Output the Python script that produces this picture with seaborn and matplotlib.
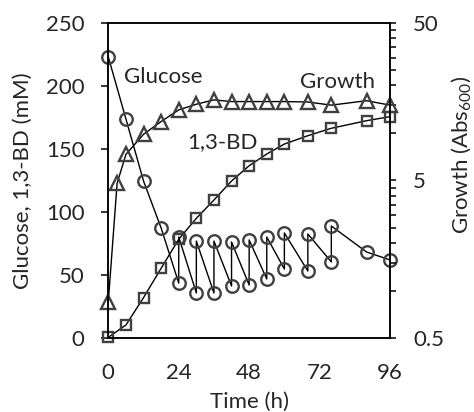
import matplotlib
matplotlib.use("Agg")
import matplotlib.pyplot as plt
import pandas as pd
import seaborn as sns
from matplotlib.ticker import FixedLocator, NullFormatter

# glucose was sampled before and after each feed, so times repeat
GLUCOSE_TIME = [0, 6, 12, 18, 24, 24, 30, 30, 36, 36, 42, 42, 48, 48,
                54, 54, 60, 60, 68, 68, 76, 76, 88, 96]
GLUCOSE_MM = [222.8, 173.7, 124.5, 87.2, 43.6, 80.1, 35.7, 76.9, 35.7, 76.9,
              41.2, 76.1, 42.0, 77.7, 46.8, 80.1, 54.7, 83.3, 53.1, 82.5,
              60.3, 88.8, 68.2, 61.9]

BD_TIME = [0, 6, 12, 18, 24, 30, 36, 42, 48, 54, 60, 68, 76, 88, 96]
BD_MM = [0.5, 10.3, 32.0, 55.3, 78.3, 94.9, 109.4, 124.5, 136.6, 145.9,
         153.8, 160.4, 166.3, 172.3, 175.5]

GROWTH_TIME = [0, 3, 6, 12, 18, 24, 30, 36, 42, 48, 54, 60, 68, 76, 88, 96]
GROWTH_ABS = [0.85, 4.8, 7.3, 9.8, 11.8, 14.0, 15.2, 16.2, 15.8, 15.8,
              15.8, 15.8, 15.7, 15.0, 16.0, 15.0]

X_TICKS = [0, 24, 48, 72, 96]
LEFT_TICKS = [0, 50, 100, 150, 200, 250]
RIGHT_TICKS = [0.5, 5, 50]
RIGHT_TICK_LABELS = ["0.5", "5", "50"]
RIGHT_MINOR = [1, 1.5, 2, 2.5, 3, 3.5, 4, 4.5, 10, 15, 20, 25, 30, 35, 40, 45]

LINE = "black"
EDGE = "#404040"
FS = 16


def setup_style():
    sns.set_style("white")
    plt.rcParams["font.family"] = ["Lato", "DejaVu Sans"]
    plt.rcParams["mathtext.default"] = "regular"
    plt.rcParams["axes.linewidth"] = 1.1
    plt.rcParams["axes.edgecolor"] = "black"


def marker_kws(marker, size):
    return dict(color=LINE, linewidth=1.0, marker=marker, markersize=size,
                markerfacecolor="none", markeredgecolor=EDGE,
                markeredgewidth=1.7, clip_on=False)


def main():
    setup_style()
    glucose = pd.DataFrame({"time": GLUCOSE_TIME, "mm": GLUCOSE_MM})
    bd = pd.DataFrame({"time": BD_TIME, "mm": BD_MM})
    growth = pd.DataFrame({"time": GROWTH_TIME, "abs600": GROWTH_ABS})

    fig = plt.figure(figsize=(4.74, 4.12), dpi=100)
    ax = fig.add_axes([0.2285, 0.1796, 0.5943, 0.7653])

    sns.lineplot(data=glucose, x="time", y="mm", estimator=None, sort=False,
                 ax=ax, **marker_kws("o", 9))
    sns.lineplot(data=bd, x="time", y="mm", estimator=None, sort=False,
                 ax=ax, **marker_kws("s", 7.8))

    ax.set_xlim(0, 96)
    ax.set_ylim(0, 250)
    ax.set_xticks(X_TICKS)
    ax.set_yticks(LEFT_TICKS)
    ax.tick_params(axis="both", labelsize=FS, direction="out", length=5,
                   width=1.1, color="black", pad=12)
    ax.tick_params(axis="x", pad=13)
    ax.set_xlabel("Time (h)", fontsize=FS)
    ax.set_ylabel("Glucose, 1,3-BD (mM)", fontsize=FS)
    ax.xaxis.set_label_coords(0.5, -0.171)
    ax.yaxis.set_label_coords(-0.267, 0.5)

    ax.text(5.5, 201.8, "Glucose", fontsize=FS, va="baseline")
    ax.text(65.3, 198.5, "Growth", fontsize=FS, va="baseline")
    ax.text(27, 150.3, "1,3-BD", fontsize=FS, va="baseline")

    ax2 = ax.twinx()
    sns.lineplot(data=growth, x="time", y="abs600", estimator=None, sort=False,
                 ax=ax2, **marker_kws("^", 9.5))
    ax2.set_yscale("log")
    ax2.set_ylim(0.5, 50)
    ax2.set_xlim(0, 96)
    ax2.yaxis.set_major_locator(FixedLocator(RIGHT_TICKS))
    ax2.set_yticklabels(RIGHT_TICK_LABELS)
    ax2.yaxis.set_minor_locator(FixedLocator(RIGHT_MINOR))
    ax2.yaxis.set_minor_formatter(NullFormatter())
    ax2.tick_params(axis="y", which="both", labelsize=FS, direction="out",
                    length=4.5, width=1.1, color="black", pad=12)
    ax2.set_ylabel("Growth (Abs$_{600}$)", fontsize=FS)
    ax2.yaxis.set_label_coords(1.21, 0.58)
    ax2.set_xlabel("")

    for a in (ax, ax2):
        for s in a.spines.values():
            s.set_visible(True)
            s.set_color("black")
            s.set_linewidth(1.1)

    fig.savefig("out.png", dpi=100)
    plt.close(fig)


if __name__ == "__main__":
    main()
